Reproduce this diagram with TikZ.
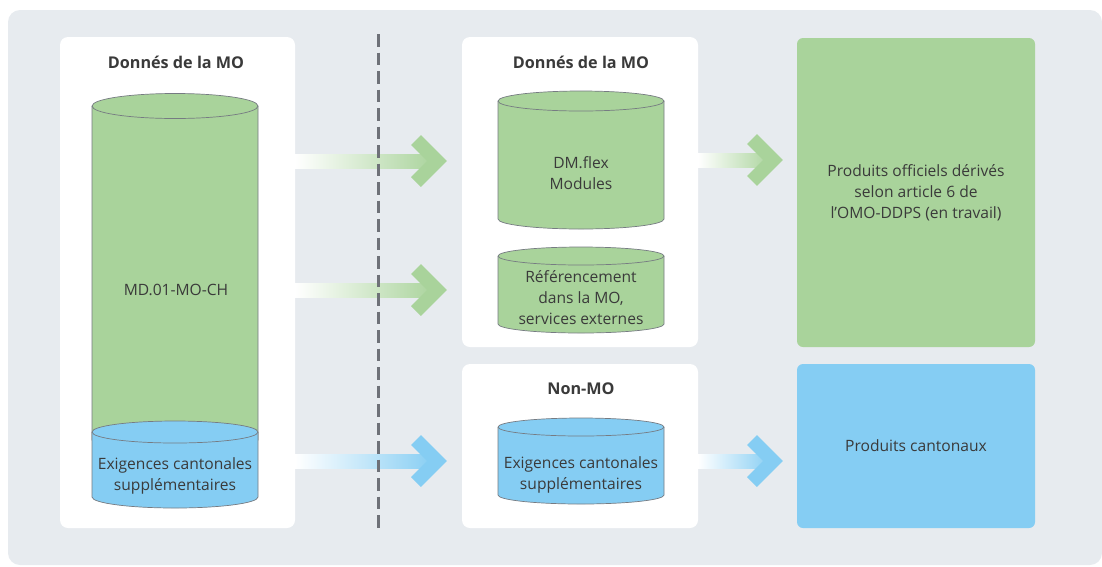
\documentclass[tikz,border=0pt]{standalone}
\usepackage{fontspec}
\setmainfont{Open Sans}
\usetikzlibrary{positioning}

\definecolor{bgGrey}{HTML}{E7EBEF}
\definecolor{moGreen}{HTML}{A9D39B}
\definecolor{moBlue}{HTML}{85CDF3}
\definecolor{cutGrey}{HTML}{6E7178}
\definecolor{rimGrey}{HTML}{767B82}
\definecolor{txtGrey}{HTML}{3A3A3A}

% cylinder: x, top y, bottom y, half width, y radius, colour
\newcommand{\Cyl}[6]{%
  \filldraw[fill=#6, draw=rimGrey, line width=0.7pt]
    (#1-#4,#2) -- (#1-#4,#3) arc[start angle=180, end angle=360, x radius=#4pt, y radius=#5pt]
    -- (#1+#4,#2) arc[start angle=0, end angle=180, x radius=#4pt, y radius=#5pt] -- cycle;
  \draw[rimGrey, line width=0.7pt] (#1-#4,#2) arc[start angle=180, end angle=360, x radius=#4pt, y radius=#5pt];
}

% fat arrow: start, tip, colour
\newcommand{\FatArrow}[3]{%
  \shade[left color=white, right color=#3] ([yshift=7pt]#1) rectangle ([xshift=-10pt, yshift=-7pt]#2);
  \draw[#3, line width=14pt] ([xshift=-31pt, yshift=21pt]#2) -- ([xshift=-10pt]#2) -- ([xshift=-31pt, yshift=-21pt]#2);
}

\begin{document}
\begin{tikzpicture}[x=1pt, y=1pt,
    txt/.style={text=txtGrey, font=\fontsize{15.6}{21}\selectfont, align=center, inner sep=0pt},
    title/.style={txt, font=\fontsize{16.2}{21}\selectfont\bfseries},
    panel/.style={fill=white, rounded corners=8pt, inner sep=0pt},
    prodbox/.style={txt, rounded corners=6pt, minimum width=238pt}]

  \useasboundingbox (0,0) rectangle (1102,-566);
  \fill[bgGrey, rounded corners=12pt] (8,-10) rectangle (1102,-565);

  % panels
  \node[panel, minimum width=235pt, minimum height=491pt] (mopanel) at (177.5,-282.5) {};
  \node[panel, minimum width=236pt, minimum height=310pt] (dmpanel) at (580,-192) {};
  \node[panel, minimum width=236pt, minimum height=164pt] (nonpanel) at (580,-446) {};

  \node[title] (motitle) at (176,-62) {Donnés de la MO};
  \node[title] (dmtitle) at (581,-62) {Donnés de la MO};
  \node[title] (nontitle) at (581,-389) {Non-MO};

  % cylinders
  \Cyl{175}{-106}{-440}{83}{12.5}{moGreen}
  \Cyl{175}{-432}{-497}{83}{11}{moBlue}
  \Cyl{581}{-101}{-219}{83}{10}{moGreen}
  \Cyl{581}{-256}{-324}{83}{9}{moGreen}
  \Cyl{581}{-427}{-495}{83}{9}{moBlue}

  \node[txt] (mdch) at (176,-290) {MD.01-MO-CH};
  \node[txt] (cantleft) at (175,-476) {Exigences cantonales\\supplémentaires};
  \node[txt] (dmflex) at (581,-173) {DM.flex\\Modules};
  \node[txt] (refmo) at (581,-298) {Référencement\\dans la MO,\\services externes};
  \node[txt] (cantmid) at (581,-475) {Exigences cantonales\\supplémentaires};

  % products
  \node[prodbox, fill=moGreen, minimum height=309pt] (offprod) at (916,-192.5)
    {Produits officiels dérivés\\selon article 6 de\\l’OMO-DDPS (en travail)};
  \node[prodbox, fill=moBlue, minimum height=164pt] (cantprod) at (916,-446) {Produits cantonaux};

  % arrows
  \coordinate (a1s) at (295,-161);  \coordinate (a1e) at (447,-161);
  \coordinate (a2s) at (295,-290);  \coordinate (a2e) at (447,-290);
  \coordinate (a3s) at (295,-461);  \coordinate (a3e) at (447,-461);
  \coordinate (a4s) at (698,-160);  \coordinate (a4e) at (783,-160);
  \coordinate (a5s) at (698,-461);  \coordinate (a5e) at (783,-461);

  \FatArrow{a1s}{a1e}{moGreen} % MO -> DM.flex
  \FatArrow{a2s}{a2e}{moGreen} % MO -> referencement
  \FatArrow{a3s}{a3e}{moBlue}  % cantonal -> Non-MO
  \FatArrow{a4s}{a4e}{moGreen} % DM.flex -> produits officiels
  \FatArrow{a5s}{a5e}{moBlue}  % Non-MO -> produits cantonaux

  % separation line
  \coordinate (cuttop) at (378,-34);
  \coordinate (cutbot) at (378,-530);
  \draw[cutGrey, line width=3pt, dash pattern=on 12.5pt off 6pt] (cuttop) -- (cutbot);
\end{tikzpicture}
\end{document}
